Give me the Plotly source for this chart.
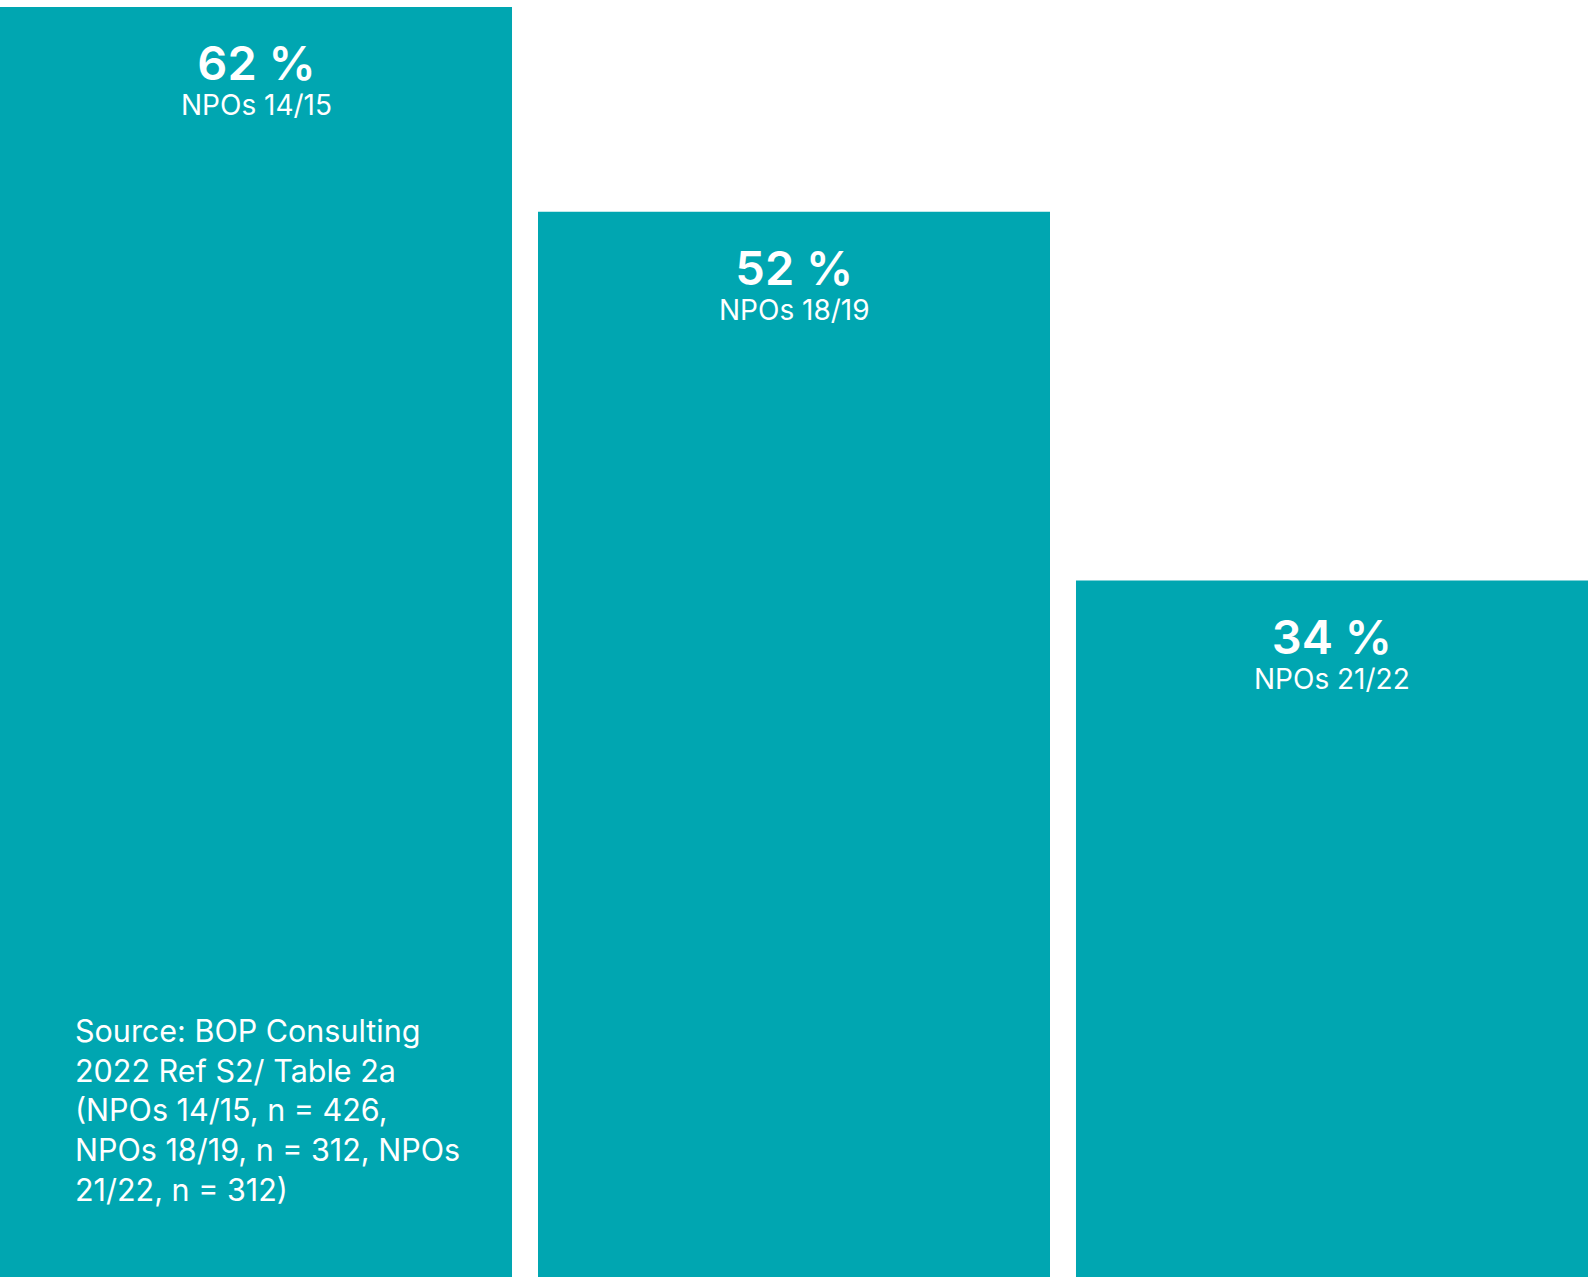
import plotly.graph_objects as go

# Share of NPOs by survey round
rounds = ["NPOs 14/15", "NPOs 18/19", "NPOs 21/22"]
shares = [62, 52, 34]
source_lines = [
    "Source: BOP Consulting",
    "2022 Ref S2/ Table 2a",
    "(NPOs 14/15, n = 426,",
    "NPOs 18/19, n = 312, NPOs",
    "21/22, n = 312)",
]

W, H = 1588, 1277
TEAL = "#00A6B1"
FONT = "Inter"

bar_w = 0.9517
xs = list(range(len(rounds)))
ymax = 62.342

fig = go.Figure(
    go.Bar(
        x=xs,
        y=shares,
        width=bar_w,
        marker=dict(color=TEAL, line=dict(width=0)),
        hoverinfo="skip",
    )
)

annotations = []
for x, v, name in zip(xs, shares, rounds):
    # value on the first line, round name underneath
    label = (
        f"<span style='font-size:47px;font-weight:600'>{v} %</span>"
        f"<br><span style='font-size:28px'>{name}</span>"
    )
    annotations.append(dict(
        x=x, y=v, xref="x", yref="y",
        text=label, showarrow=False,
        yanchor="top", yshift=-25,
        font=dict(family=FONT, size=27, color="white"),
    ))

annotations.append(dict(
    x=73 / W, y=1 - 1110 / H,
    xref="paper", yref="paper",
    text="<br>".join(source_lines), showarrow=False,
    xanchor="left", yanchor="middle", align="left",
    font=dict(family=FONT, size=30.5, color="white"),
))

fig.update_layout(
    width=W, height=H,
    margin=dict(l=0, r=0, t=0, b=0),
    paper_bgcolor="white",
    plot_bgcolor="white",
    showlegend=False,
    xaxis=dict(range=[-bar_w / 2, len(rounds) - 1 + bar_w / 2], visible=False, fixedrange=True),
    yaxis=dict(range=[0, ymax], visible=False, fixedrange=True),
    annotations=annotations,
)

fig.write_html("out.html", config={"displayModeBar": False})
